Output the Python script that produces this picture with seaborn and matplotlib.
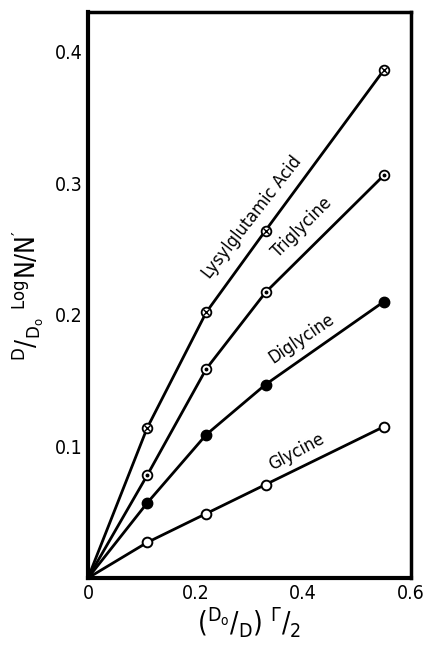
import numpy as np
import pandas as pd
import matplotlib
matplotlib.use('Agg')
import matplotlib.pyplot as plt
import seaborn as sns

# values
x_vals = [0.11, 0.22, 0.33, 0.55]
lys = [0.114, 0.202, 0.264, 0.386]
tri = [0.078, 0.159, 0.217, 0.306]
di = [0.057, 0.109, 0.147, 0.210]
gly = [0.027, 0.049, 0.071, 0.115]
names = ['Lysylglutamic Acid', 'Triglycine', 'Diglycine', 'Glycine']
x_ticks = [0, 0.2, 0.4, 0.6]
x_ticklabels = ['0', '0.2', '0.4', '0.6']
y_ticks = [0.1, 0.2, 0.3, 0.4]
y_ticklabels = ['0.1', '0.2', '0.3', '0.4']

sns.set_style('white')
plt.rcParams['font.family'] = ['DejaVu Sans']
plt.rcParams['font.stretch'] = 'condensed'
plt.rcParams['mathtext.fontset'] = 'custom'
plt.rcParams['mathtext.rm'] = 'DejaVu Sans:stretch=condensed'
plt.rcParams['mathtext.it'] = 'DejaVu Sans:stretch=condensed'
for key in ['text.color', 'axes.labelcolor', 'xtick.color', 'ytick.color']:
    plt.rcParams[key] = 'black'

# every curve starts at the origin
rows = []
for name, ys in zip(names, [lys, tri, di, gly]):
    rows.append({'compound': name, 'x': 0.0, 'y': 0.0})
    for xv, yv in zip(x_vals, ys):
        rows.append({'compound': name, 'x': xv, 'y': yv})
df = pd.DataFrame(rows)

fig = plt.figure(figsize=(4.24, 6.49), dpi=100)
ax = fig.add_axes([0.2075, 0.1094, 0.7615, 0.8721])

sns.lineplot(data=df, x='x', y='y', units='compound', estimator=None,
             color='black', lw=2.0, ax=ax, legend=False, sort=False)

ms = 7
# Lysylglutamic acid: circle with a cross
ax.plot(x_vals, lys, 'o', ms=ms, mfc='white', mec='black', mew=1.3, zorder=3)
ax.plot(x_vals, lys, 'x', ms=4, mec='black', mew=1.0, zorder=4)
# Triglycine: circle with a dot
ax.plot(x_vals, tri, 'o', ms=ms, mfc='white', mec='black', mew=1.3, zorder=3)
ax.plot(x_vals, tri, 'o', ms=1.8, mfc='black', mec='black', zorder=4)
# Diglycine: filled circle
ax.plot(x_vals, di, 'o', ms=ms + 0.5, mfc='black', mec='black', zorder=3)
# Glycine: open circle
ax.plot(x_vals, gly, 'o', ms=ms, mfc='white', mec='black', mew=1.4, zorder=3)

# curve labels
ax.text(0.305, 0.274, 'Lysylglutamic Acid', rotation=52, fontsize=13,
        ha='center', va='center')
ax.text(0.397, 0.266, 'Triglycine', rotation=45, fontsize=13,
        ha='center', va='center')
ax.text(0.397, 0.182, 'Diglycine', rotation=34, fontsize=13,
        ha='center', va='center')
ax.text(0.387, 0.096, 'Glycine', rotation=28, fontsize=13,
        ha='center', va='center')

ax.set_xlim(0, 0.6)
ax.set_ylim(0, 0.43)
ax.set_xticks(x_ticks)
ax.set_xticklabels(x_ticklabels, fontsize=14)
ax.set_yticks(y_ticks)
ax.set_yticklabels(y_ticklabels, fontsize=14)
ax.tick_params(length=0, pad=4)

for side in ['left', 'bottom', 'right', 'top']:
    ax.spines[side].set_visible(True)
    ax.spines[side].set_color('black')
ax.spines['left'].set_linewidth(3.0)
ax.spines['bottom'].set_linewidth(3.0)
ax.spines['right'].set_linewidth(2.5)
ax.spines['top'].set_linewidth(2.5)

ax.set_xlabel(r'$(^{\mathrm{D_o}}/_{\mathrm{D}})\ ^{\Gamma}/_{2}$', fontsize=20, labelpad=2)
ax.set_ylabel(r'$^{\mathrm{D}}/_{\mathrm{D_o}}\ ^{\mathrm{Log}}\mathrm{N}/\mathrm{N}^{\prime}$',
              fontsize=19, labelpad=6)

fig.savefig('out.png', dpi=100)
